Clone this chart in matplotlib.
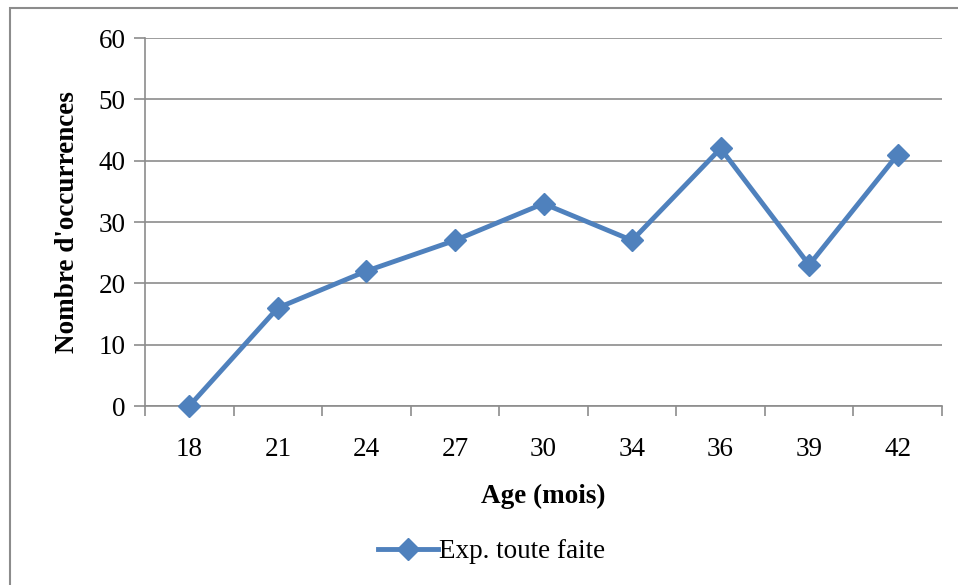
import matplotlib
matplotlib.use("Agg")
import matplotlib.pyplot as plt
from matplotlib.patches import Rectangle

ages = ["18", "21", "24", "27", "30", "34", "36", "39", "42"]
occurrences = [0, 16, 22, 27, 33, 27, 42, 23, 41]
series_name = "Exp. toute faite"
yticks = [0, 10, 20, 30, 40, 50, 60]

plt.rcParams['font.family'] = ['Liberation Serif', 'DejaVu Serif']

W, H = 958, 585
fig = plt.figure(figsize=(W / 100, H / 100), dpi=100)
fig.patch.set_facecolor("white")

# outer chart border
fig.patches.append(Rectangle((10 / W, -0.1), 2, 1 - 8 / H + 0.1, transform=fig.transFigure,
                             fill=False, edgecolor="#8c8c8c", linewidth=1.5))

ax = fig.add_axes([145 / W, 1 - 406 / H, (942 - 145) / W, (406 - 38) / H])
x = list(range(len(ages)))
ax.plot(x, occurrences, color="#4F81BD", linewidth=3.5, marker="D", markersize=11,
        label=series_name, zorder=3, clip_on=False)

ax.set_xlim(-0.5, len(ages) - 0.5)
ax.set_ylim(0, 60)
ax.set_yticks(yticks)
ax.set_yticklabels([str(v) for v in yticks], fontsize=19.5)
ax.set_xticks(x)
ax.set_xticklabels(ages, fontsize=19.5)
ax.set_xticks([i - 0.5 for i in range(len(ages) + 1)], minor=True)
ax.tick_params(axis="x", which="major", length=0, pad=22)
ax.tick_params(axis="x", which="minor", length=7, color="#8c8c8c", width=1.2)
ax.tick_params(axis="y", length=8, color="#8c8c8c", width=1.2, pad=6)

ax.grid(axis="y", color="#8c8c8c", linewidth=1.2)
for s in ["top", "right"]:
    ax.spines[s].set_visible(False)
for s in ["left", "bottom"]:
    ax.spines[s].set_color("#8c8c8c")
    ax.spines[s].set_linewidth(1.2)

ax.set_ylabel("Nombre d'occurrences", fontsize=19.5, fontweight="bold", labelpad=13)
ax.set_xlabel("Age (mois)", fontsize=19.5, fontweight="bold", labelpad=16)

fig.legend(loc="center", bbox_to_anchor=(492 / W, 1 - 552 / H), frameon=False,
           fontsize=19.5, handlelength=2.2, handletextpad=0.05)

fig.savefig("out.png", dpi=100)
